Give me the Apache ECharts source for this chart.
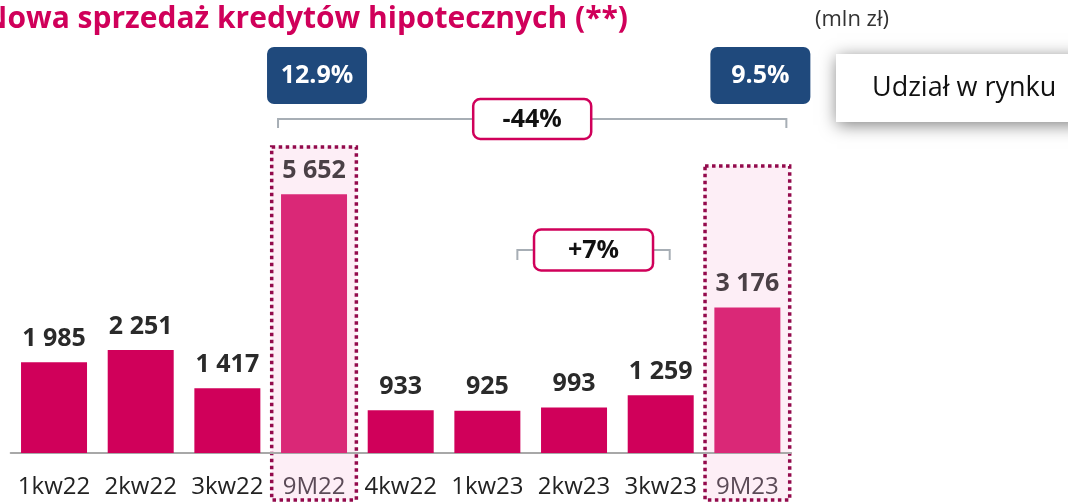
<!DOCTYPE html>
<html><head><meta charset="utf-8">
<script src="https://cdn.jsdelivr.net/npm/echarts@6/dist/echarts.min.js"></script>
<style>html,body{margin:0;padding:0;background:#fff}#c{width:1068px;height:503px}</style>
</head><body><div id="c"></div>
<script>
const categories = ['1kw22','2kw22','3kw22','9M22','4kw22','1kw23','2kw23','3kw23','9M23'];
const values = [1985, 2251, 1417, 5652, 933, 925, 993, 1259, 3176];
const cumulativeCats = ['9M22', '9M23'];
const shareLabels = ['12.9%', '9.5%'];
const changeLabels = ['-44%', '+7%'];
const titleText = 'Nowa sprzedaż kredytów hipotecznych (**)';
const unitText = '(mln zł)';
const legendText = 'Udział w rynku';

const FONT = 'Open Sans';
const PINK = '#d0005a';
const PINK_LIGHT = '#da2877';
const fmt = v => String(v).replace(/\B(?=(\d{3})+(?!\d))/g, ' ');

const chart = echarts.init(document.getElementById('c'), null, {renderer: 'canvas'});
const isCum = c => cumulativeCats.includes(c);

chart.setOption({
  animation: false,
  grid: {left: 10.7, right: 277.3, top: 41, bottom: 50},
  xAxis: {
    type: 'category', data: categories,
    axisLine: {lineStyle: {color: '#a8a8a8', width: 2}},
    axisTick: {show: false},
    axisLabel: {
      interval: 0, margin: 22, fontFamily: FONT, fontSize: 24, color: '#222',
      formatter: v => isCum(v) ? '{c|' + v + '}' : v,
      rich: {c: {fontFamily: FONT, fontSize: 24, color: '#5b4a57'}}
    }
  },
  yAxis: {type: 'value', min: 0, max: 9000, show: false, splitLine: {show: false}},
  series: [{
    type: 'bar', barWidth: 66, z: 5,
    data: values.map((v, i) => ({
      value: v,
      itemStyle: {color: isCum(categories[i]) ? PINK_LIGHT : PINK},
      label: {color: isCum(categories[i]) ? '#4a4046' : '#2a2a2a'}
    })),
    label: {
      show: true, position: 'top', distance: 11,
      fontFamily: FONT, fontWeight: 'bold', fontSize: 25,
      formatter: p => fmt(p.value)
    }
  }]
});

const cx = c => chart.convertToPixel({xAxisIndex: 0}, c);
const band = cx(categories[1]) - cx(categories[0]);
const g = [];

// highlight boxes for cumulative columns
const boxTops = [147, 166];
cumulativeCats.forEach((c, k) => {
  const x = cx(c);
  g.push({type: 'rect', z: -10, shape: {x: x - band / 2 + 1, y: boxTops[k], width: band - 2, height: 500 - boxTops[k]},
    style: {fill: '#fdeef6', stroke: '#930a4c', lineWidth: 3.5, lineDash: [3.5, 3.5]}});
});

// share boxes
const shareOffsets = [3, 13];
cumulativeCats.forEach((c, k) => {
  const x = cx(c) + shareOffsets[k];
  g.push({type: 'rect', z: 10, shape: {x: x - 50, y: 47, width: 100, height: 57, r: 7},
    style: {fill: '#1f497c'}});
  g.push({type: 'text', z: 11, x: x, y: 76,
    style: {text: shareLabels[k], fill: '#fff', font: 'bold 25px "' + FONT + '"', align: 'center', verticalAlign: 'middle'}});
});

function bracket(x1, x2, y, tick, label, bw, bh) {
  const col = '#a7aeb5';
  g.push({type: 'polyline', z: 10, shape: {points: [[x1, y + tick], [x1, y], [x2, y], [x2, y + tick]]},
    style: {stroke: col, lineWidth: 2, fill: null}});
  const m = (x1 + x2) / 2;
  g.push({type: 'rect', z: 11, shape: {x: m - bw / 2, y: y - bh / 2, width: bw, height: bh, r: 7},
    style: {fill: '#fff', stroke: PINK, lineWidth: 2.5}});
  g.push({type: 'text', z: 12, x: m, y: y + 1,
    style: {text: label, fill: '#111', font: 'bold 25px "' + FONT + '"', align: 'center', verticalAlign: 'middle'}});
}
bracket(cx('9M22') - 36, cx('9M23') + 39, 119, 9, changeLabels[0], 118, 40);
bracket(cx('1kw23') + 30, cx('3kw23') + 9, 250, 10, changeLabels[1], 119, 41);

// legend box
g.push({type: 'rect', z: 10, shape: {x: 836, y: 54, width: 260, height: 68},
  style: {fill: '#fff', shadowBlur: 16, shadowColor: 'rgba(0,0,0,0.5)', shadowOffsetX: 1, shadowOffsetY: 3}});
g.push({type: 'text', z: 11, x: 872, y: 88,
  style: {text: legendText, fill: '#111', font: '27px "' + FONT + '"', verticalAlign: 'middle'}});

// title & unit
g.push({type: 'text', z: 11, x: -17, y: 19,
  style: {text: titleText, fill: PINK, font: 'bold 30px "' + FONT + '"', verticalAlign: 'middle'}});
g.push({type: 'text', z: 11, x: 815, y: 20,
  style: {text: unitText, fill: '#333', font: '22px "' + FONT + '"', verticalAlign: 'middle'}});

chart.setOption({graphic: {elements: g}});
</script>
</body></html>
